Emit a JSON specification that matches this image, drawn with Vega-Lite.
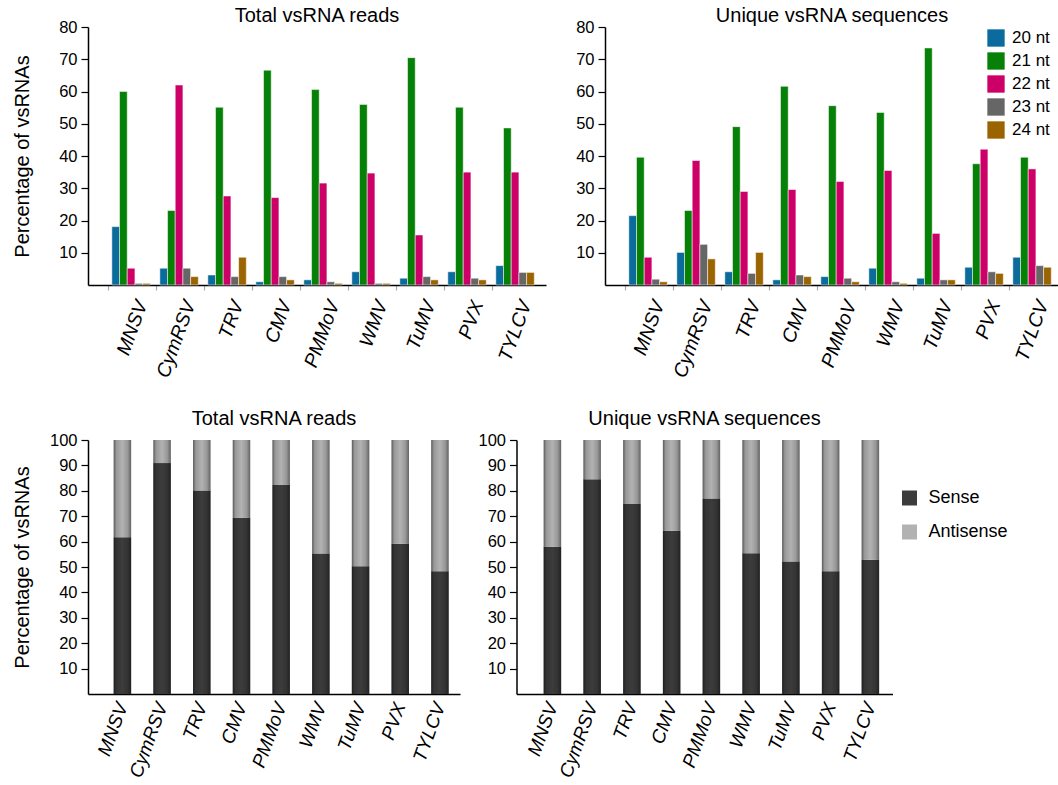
{
  "$schema": "https://vega.github.io/schema/vega-lite/v6.json",
  "background": "white",
  "padding": {"left": 12, "top": 6, "right": 0, "bottom": 0},
  "config": {
    "font": "Liberation Sans",
    "view": {"stroke": null},
    "title": {"fontSize": 20, "fontWeight": "normal", "color": "#000000"},
    "axis": {"labelFontSize": 16.5, "labelColor": "#000000", "labelOverlap": false, "titleFontSize": 20, "titleFontWeight": "normal", "titleColor": "#000000", "domainColor": "#000000", "domainWidth": 1.5, "tickColor": "#000000", "tickWidth": 1.2, "grid": false},
    "legend": {"labelFontSize": 17, "labelColor": "#000000"}
  },
  "datasets": {
    "total": [
      {"virus": "MNSV", "size": "20 nt", "pct": 18.1}, {"virus": "MNSV", "size": "21 nt", "pct": 60.0}, {"virus": "MNSV", "size": "22 nt", "pct": 5.2}, {"virus": "MNSV", "size": "23 nt", "pct": 0.5}, {"virus": "MNSV", "size": "24 nt", "pct": 0.5},
      {"virus": "CymRSV", "size": "20 nt", "pct": 5.2}, {"virus": "CymRSV", "size": "21 nt", "pct": 23.1}, {"virus": "CymRSV", "size": "22 nt", "pct": 62.0}, {"virus": "CymRSV", "size": "23 nt", "pct": 5.2}, {"virus": "CymRSV", "size": "24 nt", "pct": 2.6},
      {"virus": "TRV", "size": "20 nt", "pct": 3.1}, {"virus": "TRV", "size": "21 nt", "pct": 55.1}, {"virus": "TRV", "size": "22 nt", "pct": 27.6}, {"virus": "TRV", "size": "23 nt", "pct": 2.6}, {"virus": "TRV", "size": "24 nt", "pct": 8.6},
      {"virus": "CMV", "size": "20 nt", "pct": 1.0}, {"virus": "CMV", "size": "21 nt", "pct": 66.6}, {"virus": "CMV", "size": "22 nt", "pct": 27.1}, {"virus": "CMV", "size": "23 nt", "pct": 2.6}, {"virus": "CMV", "size": "24 nt", "pct": 1.6},
      {"virus": "PMMoV", "size": "20 nt", "pct": 1.6}, {"virus": "PMMoV", "size": "21 nt", "pct": 60.6}, {"virus": "PMMoV", "size": "22 nt", "pct": 31.6}, {"virus": "PMMoV", "size": "23 nt", "pct": 1.0}, {"virus": "PMMoV", "size": "24 nt", "pct": 0.5},
      {"virus": "WMV", "size": "20 nt", "pct": 4.1}, {"virus": "WMV", "size": "21 nt", "pct": 56.0}, {"virus": "WMV", "size": "22 nt", "pct": 34.7}, {"virus": "WMV", "size": "23 nt", "pct": 0.5}, {"virus": "WMV", "size": "24 nt", "pct": 0.5},
      {"virus": "TuMV", "size": "20 nt", "pct": 2.1}, {"virus": "TuMV", "size": "21 nt", "pct": 70.5}, {"virus": "TuMV", "size": "22 nt", "pct": 15.5}, {"virus": "TuMV", "size": "23 nt", "pct": 2.6}, {"virus": "TuMV", "size": "24 nt", "pct": 1.6},
      {"virus": "PVX", "size": "20 nt", "pct": 4.1}, {"virus": "PVX", "size": "21 nt", "pct": 55.1}, {"virus": "PVX", "size": "22 nt", "pct": 35.0}, {"virus": "PVX", "size": "23 nt", "pct": 2.1}, {"virus": "PVX", "size": "24 nt", "pct": 1.6},
      {"virus": "TYLCV", "size": "20 nt", "pct": 6.0}, {"virus": "TYLCV", "size": "21 nt", "pct": 48.7}, {"virus": "TYLCV", "size": "22 nt", "pct": 35.0}, {"virus": "TYLCV", "size": "23 nt", "pct": 3.9}, {"virus": "TYLCV", "size": "24 nt", "pct": 3.9}
    ],
    "unique": [
      {"virus": "MNSV", "size": "20 nt", "pct": 21.5}, {"virus": "MNSV", "size": "21 nt", "pct": 39.6}, {"virus": "MNSV", "size": "22 nt", "pct": 8.6}, {"virus": "MNSV", "size": "23 nt", "pct": 1.8}, {"virus": "MNSV", "size": "24 nt", "pct": 1.0},
      {"virus": "CymRSV", "size": "20 nt", "pct": 10.1}, {"virus": "CymRSV", "size": "21 nt", "pct": 23.1}, {"virus": "CymRSV", "size": "22 nt", "pct": 38.6}, {"virus": "CymRSV", "size": "23 nt", "pct": 12.6}, {"virus": "CymRSV", "size": "24 nt", "pct": 8.1},
      {"virus": "TRV", "size": "20 nt", "pct": 4.1}, {"virus": "TRV", "size": "21 nt", "pct": 49.1}, {"virus": "TRV", "size": "22 nt", "pct": 29.0}, {"virus": "TRV", "size": "23 nt", "pct": 3.6}, {"virus": "TRV", "size": "24 nt", "pct": 10.1},
      {"virus": "CMV", "size": "20 nt", "pct": 1.6}, {"virus": "CMV", "size": "21 nt", "pct": 61.6}, {"virus": "CMV", "size": "22 nt", "pct": 29.6}, {"virus": "CMV", "size": "23 nt", "pct": 3.1}, {"virus": "CMV", "size": "24 nt", "pct": 2.6},
      {"virus": "PMMoV", "size": "20 nt", "pct": 2.6}, {"virus": "PMMoV", "size": "21 nt", "pct": 55.6}, {"virus": "PMMoV", "size": "22 nt", "pct": 32.1}, {"virus": "PMMoV", "size": "23 nt", "pct": 2.1}, {"virus": "PMMoV", "size": "24 nt", "pct": 1.0},
      {"virus": "WMV", "size": "20 nt", "pct": 5.2}, {"virus": "WMV", "size": "21 nt", "pct": 53.5}, {"virus": "WMV", "size": "22 nt", "pct": 35.5}, {"virus": "WMV", "size": "23 nt", "pct": 1.0}, {"virus": "WMV", "size": "24 nt", "pct": 0.5},
      {"virus": "TuMV", "size": "20 nt", "pct": 2.1}, {"virus": "TuMV", "size": "21 nt", "pct": 73.5}, {"virus": "TuMV", "size": "22 nt", "pct": 16.0}, {"virus": "TuMV", "size": "23 nt", "pct": 1.6}, {"virus": "TuMV", "size": "24 nt", "pct": 1.6},
      {"virus": "PVX", "size": "20 nt", "pct": 5.5}, {"virus": "PVX", "size": "21 nt", "pct": 37.6}, {"virus": "PVX", "size": "22 nt", "pct": 42.1}, {"virus": "PVX", "size": "23 nt", "pct": 4.1}, {"virus": "PVX", "size": "24 nt", "pct": 3.6},
      {"virus": "TYLCV", "size": "20 nt", "pct": 8.6}, {"virus": "TYLCV", "size": "21 nt", "pct": 39.6}, {"virus": "TYLCV", "size": "22 nt", "pct": 36.0}, {"virus": "TYLCV", "size": "23 nt", "pct": 6.0}, {"virus": "TYLCV", "size": "24 nt", "pct": 5.5}
    ],
    "strandTotal": [
      {"virus": "MNSV", "strand": "Sense", "pct": 61.7}, {"virus": "MNSV", "strand": "Antisense", "pct": 38.3},
      {"virus": "CymRSV", "strand": "Sense", "pct": 90.9}, {"virus": "CymRSV", "strand": "Antisense", "pct": 9.1},
      {"virus": "TRV", "strand": "Sense", "pct": 80.1}, {"virus": "TRV", "strand": "Antisense", "pct": 19.9},
      {"virus": "CMV", "strand": "Sense", "pct": 69.4}, {"virus": "CMV", "strand": "Antisense", "pct": 30.6},
      {"virus": "PMMoV", "strand": "Sense", "pct": 82.3}, {"virus": "PMMoV", "strand": "Antisense", "pct": 17.7},
      {"virus": "WMV", "strand": "Sense", "pct": 55.3}, {"virus": "WMV", "strand": "Antisense", "pct": 44.7},
      {"virus": "TuMV", "strand": "Sense", "pct": 50.3}, {"virus": "TuMV", "strand": "Antisense", "pct": 49.7},
      {"virus": "PVX", "strand": "Sense", "pct": 59.2}, {"virus": "PVX", "strand": "Antisense", "pct": 40.8},
      {"virus": "TYLCV", "strand": "Sense", "pct": 48.3}, {"virus": "TYLCV", "strand": "Antisense", "pct": 51.7}
    ],
    "strandUnique": [
      {"virus": "MNSV", "strand": "Sense", "pct": 58.0}, {"virus": "MNSV", "strand": "Antisense", "pct": 42.0},
      {"virus": "CymRSV", "strand": "Sense", "pct": 84.5}, {"virus": "CymRSV", "strand": "Antisense", "pct": 15.5},
      {"virus": "TRV", "strand": "Sense", "pct": 74.8}, {"virus": "TRV", "strand": "Antisense", "pct": 25.2},
      {"virus": "CMV", "strand": "Sense", "pct": 64.3}, {"virus": "CMV", "strand": "Antisense", "pct": 35.7},
      {"virus": "PMMoV", "strand": "Sense", "pct": 77.0}, {"virus": "PMMoV", "strand": "Antisense", "pct": 23.0},
      {"virus": "WMV", "strand": "Sense", "pct": 55.4}, {"virus": "WMV", "strand": "Antisense", "pct": 44.6},
      {"virus": "TuMV", "strand": "Sense", "pct": 52.2}, {"virus": "TuMV", "strand": "Antisense", "pct": 47.8},
      {"virus": "PVX", "strand": "Sense", "pct": 48.3}, {"virus": "PVX", "strand": "Antisense", "pct": 51.7},
      {"virus": "TYLCV", "strand": "Sense", "pct": 52.9}, {"virus": "TYLCV", "strand": "Antisense", "pct": 47.1}
    ]
  },
  "resolve": {"scale": {"color": "independent"}, "legend": {"color": "independent"}},
  "spacing": 29,
  "vconcat": [
    {
      "spacing": 29,
      "resolve": {"scale": {"color": "independent"}, "legend": {"color": "independent"}},
      "hconcat": [
        {
          "title": {"text": "Total vsRNA reads", "offset": -7},
          "width": 458, "height": 258,
          "data": {"name": "total"},
          "mark": {"type": "bar", "stroke": "white", "strokeWidth": 0.5},
          "encoding": {
            "x": {"field": "virus", "type": "nominal", "sort": ["MNSV","CymRSV","TRV","CMV","PMMoV","WMV","TuMV","PVX","TYLCV"],
              "scale": {"paddingInner": 0, "paddingOuter": 0.271, "align": 0.77},
              "axis": {"title": null, "labelAngle": -70, "labelFontSize": 19.5, "labelFontStyle": "italic", "bandPosition": 0, "labelOffset": 10, "tickColor": "#aaaaaa", "tickSize": 5, "labelPadding": 11}},
            "xOffset": {"field": "size", "type": "nominal", "scale": {"paddingInner": 0, "paddingOuter": 0.62, "align": 0.4}},
            "y": {"field": "pct", "type": "quantitative", "scale": {"domain": [0, 80], "nice": false},
              "axis": {"title": "Percentage of vsRNAs", "values": [10,20,30,40,50,60,70,80], "tickCount": 10, "tickSize": 7, "labelPadding": 4, "titlePadding": 26}},
            "color": {"field": "size", "type": "nominal", "scale": {"domain": ["20 nt","21 nt","22 nt","23 nt","24 nt"], "range": ["#0a6b9c","#068006","#cc0066","#666666","#9a6500"]}, "legend": null}
          }
        },
        {
          "title": {"text": "Unique vsRNA sequences", "offset": -7},
          "width": 454, "height": 258,
          "data": {"name": "unique"},
          "mark": {"type": "bar", "stroke": "white", "strokeWidth": 0.5},
          "encoding": {
            "x": {"field": "virus", "type": "nominal", "sort": ["MNSV","CymRSV","TRV","CMV","PMMoV","WMV","TuMV","PVX","TYLCV"],
              "scale": {"paddingInner": 0, "paddingOuter": 0.229, "align": 0.91},
              "axis": {"title": null, "labelAngle": -70, "labelFontSize": 19.5, "labelFontStyle": "italic", "bandPosition": 0, "labelOffset": 10, "tickColor": "#aaaaaa", "tickSize": 5, "labelPadding": 11}},
            "xOffset": {"field": "size", "type": "nominal", "scale": {"paddingInner": 0, "paddingOuter": 0.62, "align": 0.4}},
            "y": {"field": "pct", "type": "quantitative", "scale": {"domain": [0, 80], "nice": false},
              "axis": {"title": null, "values": [10,20,30,40,50,60,70,80], "tickCount": 10, "tickSize": 7, "labelPadding": 4}},
            "color": {"field": "size", "type": "nominal", "scale": {"domain": ["20 nt","21 nt","22 nt","23 nt","24 nt"], "range": ["#0a6b9c","#068006","#cc0066","#666666","#9a6500"]},
              "legend": {"title": null, "orient": "none", "legendX": 382, "legendY": 2, "symbolType": "square", "symbolSize": 300, "symbolStrokeWidth": 0, "rowPadding": 5, "labelFontSize": 17, "labelOffset": 7}}
          }
        }
      ]
    },
    {
      "spacing": 17.5,
      "resolve": {"scale": {"color": "independent"}, "legend": {"color": "independent"}},
      "hconcat": [
        {
          "title": {"text": "Total vsRNA reads", "offset": 3},
          "width": 372, "height": 254,
          "layer": [
            {
              "data": {"name": "strandTotal"},
              "mark": "bar",
              "encoding": {
                "x": {"field": "virus", "type": "nominal", "sort": ["MNSV","CymRSV","TRV","CMV","PMMoV","WMV","TuMV","PVX","TYLCV"],
                  "scale": {"paddingInner": 0.56, "paddingOuter": 0.466, "align": 0.694},
                  "axis": {"title": null, "labelAngle": -70, "labelFontSize": 19, "labelFontStyle": "italic", "ticks": false, "labelPadding": 9}},
                "y": {"field": "pct", "type": "quantitative", "stack": "zero", "scale": {"domain": [0, 100], "nice": false},
                  "axis": {"title": "Percentage of vsRNAs", "values": [10,20,30,40,50,60,70,80,90,100], "tickCount": 12, "tickSize": 7, "labelPadding": 4, "titlePadding": 17}},
                "color": {"field": "strand", "type": "nominal", "scale": {"domain": ["Sense","Antisense"], "range": ["#3c3c3c","#b2b2b2"]}, "legend": null},
                "order": {"field": "strand", "sort": "descending"}
              }
            },
            {
              "data": {"name": "strandTotal"},
              "transform": [{"filter": "datum.strand === 'Sense'"}],
              "mark": {"type": "bar", "fill": {"gradient": "linear", "x1": 0, "y1": 0, "x2": 1, "y2": 0, "stops": [{"offset": 0, "color": "rgba(0,0,0,0.5)"}, {"offset": 0.15, "color": "rgba(0,0,0,0.15)"}, {"offset": 0.5, "color": "rgba(0,0,0,0)"}, {"offset": 0.8, "color": "rgba(0,0,0,0.15)"}, {"offset": 1, "color": "rgba(0,0,0,0.45)"}]}},
              "encoding": {
                "x": {"field": "virus", "type": "nominal", "sort": ["MNSV","CymRSV","TRV","CMV","PMMoV","WMV","TuMV","PVX","TYLCV"]},
                "y": {"datum": 0},
                "y2": {"datum": 100}
              }
            }
          ]
        },
        {
          "title": {"text": "Unique vsRNA sequences", "offset": 3},
          "width": 376, "height": 254,
          "layer": [
            {
              "data": {"name": "strandUnique"},
              "mark": "bar",
              "encoding": {
                "x": {"field": "virus", "type": "nominal", "sort": ["MNSV","CymRSV","TRV","CMV","PMMoV","WMV","TuMV","PVX","TYLCV"],
                  "scale": {"paddingInner": 0.56, "paddingOuter": 0.51, "align": 0.67},
                  "axis": {"title": null, "labelAngle": -70, "labelFontSize": 19, "labelFontStyle": "italic", "ticks": false, "labelPadding": 9}},
                "y": {"field": "pct", "type": "quantitative", "stack": "zero", "scale": {"domain": [0, 100], "nice": false},
                  "axis": {"title": null, "values": [10,20,30,40,50,60,70,80,90,100], "tickCount": 12, "tickSize": 7, "labelPadding": 4}},
                "color": {"field": "strand", "type": "nominal", "scale": {"domain": ["Sense","Antisense"], "range": ["#3c3c3c","#b2b2b2"]},
                  "legend": {"title": null, "orient": "none", "legendX": 384, "legendY": 49, "symbolType": "square", "symbolSize": 225, "symbolStrokeWidth": 0, "rowPadding": 16, "labelFontSize": 18, "labelOffset": 10}},
                "order": {"field": "strand", "sort": "descending"}
              }
            },
            {
              "data": {"name": "strandUnique"},
              "transform": [{"filter": "datum.strand === 'Sense'"}],
              "mark": {"type": "bar", "fill": {"gradient": "linear", "x1": 0, "y1": 0, "x2": 1, "y2": 0, "stops": [{"offset": 0, "color": "rgba(0,0,0,0.5)"}, {"offset": 0.15, "color": "rgba(0,0,0,0.15)"}, {"offset": 0.5, "color": "rgba(0,0,0,0)"}, {"offset": 0.8, "color": "rgba(0,0,0,0.15)"}, {"offset": 1, "color": "rgba(0,0,0,0.45)"}]}},
              "encoding": {
                "x": {"field": "virus", "type": "nominal", "sort": ["MNSV","CymRSV","TRV","CMV","PMMoV","WMV","TuMV","PVX","TYLCV"]},
                "y": {"datum": 0},
                "y2": {"datum": 100}
              }
            }
          ]
        }
      ]
    }
  ]
}
